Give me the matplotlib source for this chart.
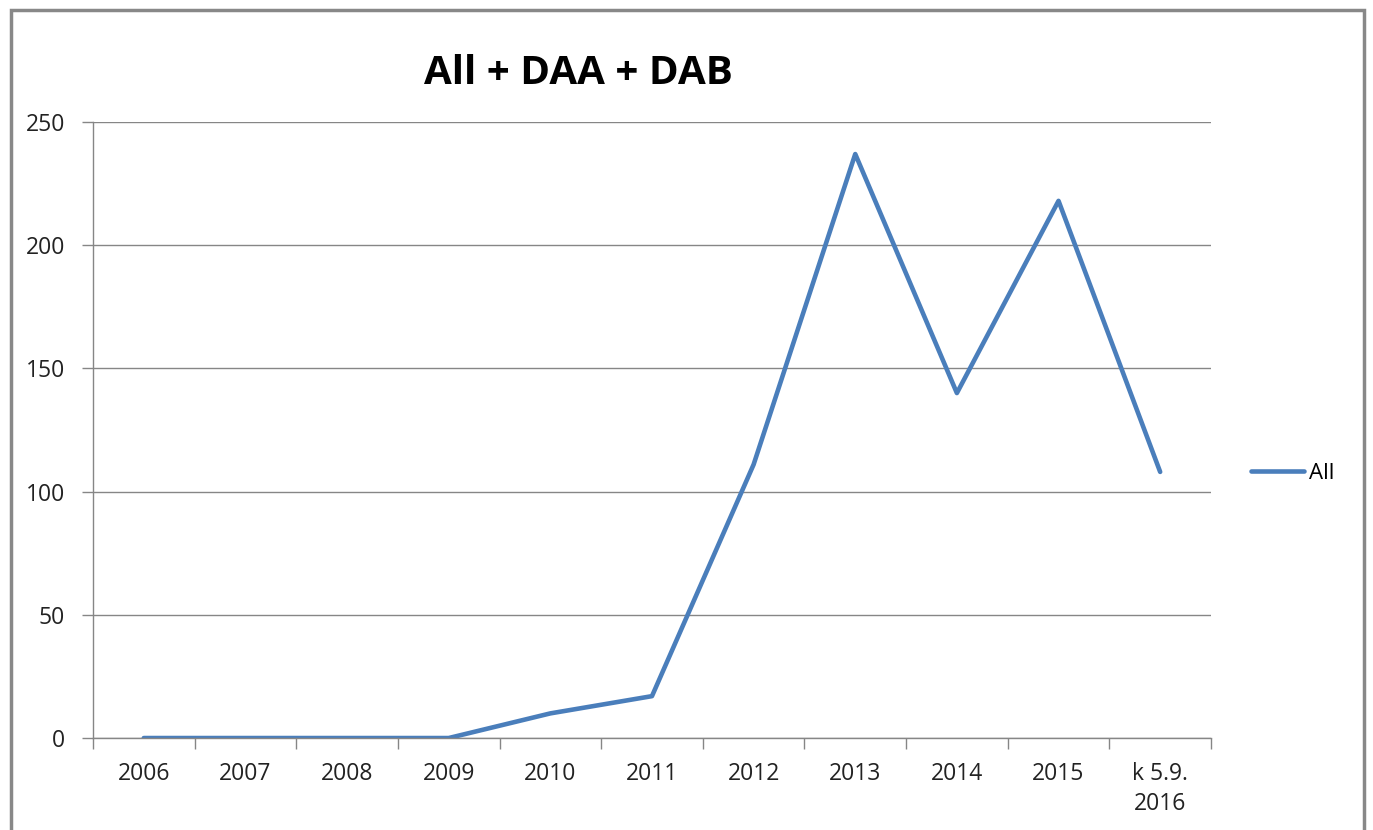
import matplotlib.pyplot as plt
import matplotlib.patches as mpatches
from matplotlib.ticker import FixedLocator, NullFormatter

plt.rcParams['font.family'] = ['Open Sans', 'DejaVu Sans']

years = ['2006', '2007', '2008', '2009', '2010', '2011', '2012', '2013', '2014', '2015', 'k 5.9.\n2016']
all_cases = [0, 0, 0, 0, 10, 17, 111, 237, 140, 218, 108]

fig = plt.figure(figsize=(13.73, 8.30), dpi=100)
ax = fig.add_axes([0.0677, 0.1108, 0.8143, 0.7422])

x = list(range(len(years)))
ax.plot(x, all_cases, color='#4A7EBB', linewidth=3.3, solid_capstyle='round', label='All')

ax.set_xlim(-0.5, len(years) - 0.5)
ax.set_ylim(0, 250)
ax.set_yticks([0, 50, 100, 150, 200, 250])
ax.yaxis.grid(True, color='#868686', linewidth=1)
ax.set_axisbelow(True)

# category boundaries get tick marks, labels sit in the middle
ax.xaxis.set_major_locator(FixedLocator([i - 0.5 for i in range(len(years) + 1)]))
ax.xaxis.set_major_formatter(NullFormatter())
ax.xaxis.set_minor_locator(FixedLocator(x))
ax.set_xticklabels(years, minor=True, linespacing=1.35)
ax.tick_params(axis='x', which='major', direction='out', length=8, color='#868686', width=1)
ax.tick_params(axis='x', which='minor', length=0, pad=17, labelsize=16.5, labelcolor='#222222')
ax.tick_params(axis='y', direction='out', length=8, color='#868686', width=1, pad=12,
               labelsize=16.5, labelcolor='#222222')

for s in ['top', 'right']:
    ax.spines[s].set_visible(False)
for s in ['left', 'bottom']:
    ax.spines[s].set_color('#868686')
    ax.spines[s].set_linewidth(1)

fig.text(0.421, 0.911, 'All + DAA + DAB', ha='center', va='center',
         fontsize=29, fontweight='bold', color='black')

ax.legend(loc='center left', bbox_to_anchor=(1.018, 0.43), frameon=False,
          fontsize=16, handlelength=2.4, handletextpad=0.2)

# outer chart border
fig.patches.append(mpatches.Rectangle((11 / 1373, -0.05), (1364 - 11) / 1373, 1.05 - 10 / 830,
                                      transform=fig.transFigure, fill=False,
                                      edgecolor='#888888', linewidth=2.5))

fig.savefig('out.png', dpi=100)
